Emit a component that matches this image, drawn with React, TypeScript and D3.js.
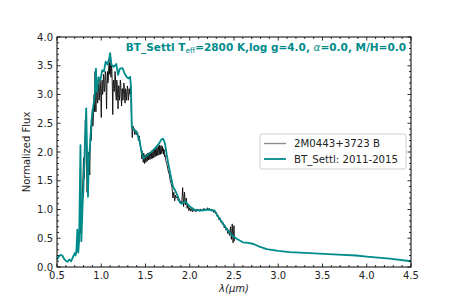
import React from 'react';
import * as d3 from 'd3';

const width = 457;
const height = 305;
const margin = { top: 37, right: 46, bottom: 38, left: 57 };

const teal = '#008b8b';

// 2M0443+3723 B observed spectrum [wavelength um, normalized flux]
const obsWave = [
    0.73, 0.74, 0.75, 0.76, 0.77, 0.78, 0.79, 0.80, 0.81, 0.82, 0.83, 0.84, 0.85, 0.86, 0.87,
    0.880, 0.885, 0.890, 0.895, 0.900, 0.905, 0.910, 0.915, 0.920, 0.925, 0.930, 0.935, 0.940, 0.945, 0.950,
    0.955, 0.960, 0.965, 0.970, 0.975, 0.980, 0.985, 0.990, 0.995, 1.000, 1.005, 1.010, 1.015, 1.020, 1.025,
    1.030, 1.035, 1.040, 1.045, 1.050, 1.055, 1.060, 1.065, 1.070, 1.075, 1.080, 1.085, 1.090, 1.095, 1.100,
    1.105, 1.110, 1.115, 1.120, 1.125, 1.130, 1.135, 1.140, 1.145, 1.150, 1.155, 1.160, 1.165, 1.170, 1.175,
    1.180, 1.185, 1.190, 1.195, 1.200, 1.205, 1.210, 1.215, 1.220, 1.225, 1.230, 1.235, 1.240, 1.245, 1.250,
    1.255, 1.260, 1.265, 1.270, 1.275, 1.280, 1.285, 1.290, 1.295, 1.300, 1.305, 1.310, 1.315, 1.320, 1.325,
    1.330, 1.335, 1.340,
    1.35, 1.36, 1.37, 1.38, 1.39, 1.40, 1.41, 1.42, 1.43, 1.44,
    1.450, 1.455, 1.460, 1.465, 1.470, 1.475, 1.480, 1.485, 1.490, 1.495, 1.500, 1.505, 1.510, 1.515, 1.520,
    1.525, 1.530, 1.535, 1.540, 1.545, 1.550, 1.555, 1.560, 1.565, 1.570, 1.575, 1.580, 1.585, 1.590, 1.595,
    1.600, 1.605, 1.610, 1.615, 1.620, 1.625, 1.630, 1.635, 1.640, 1.645, 1.650, 1.655, 1.660, 1.665, 1.670,
    1.675, 1.680, 1.685, 1.690, 1.695, 1.700, 1.705, 1.710, 1.715, 1.720,
    1.73, 1.74, 1.75, 1.76, 1.77, 1.78, 1.79, 1.80,
    1.81, 1.82, 1.83, 1.84, 1.85, 1.86, 1.87, 1.88, 1.89, 1.90, 1.91, 1.92, 1.93, 1.94, 1.95, 1.96, 1.97, 1.98,
    1.99, 2.00, 2.01, 2.02, 2.03, 2.04, 2.05, 2.06, 2.07, 2.08, 2.09, 2.10, 2.11, 2.12, 2.13, 2.14, 2.15, 2.16,
    2.17, 2.18, 2.19, 2.20, 2.21, 2.22, 2.23, 2.24, 2.25, 2.26, 2.27, 2.28, 2.29, 2.30, 2.31, 2.32, 2.33, 2.34,
    2.35, 2.36, 2.37, 2.38, 2.39, 2.40, 2.41, 2.42, 2.43, 2.44, 2.45, 2.46, 2.47, 2.48, 2.49, 2.50, 2.505,
];
const obsFlux = [
    0.35, 0.55, 0.45, 0.80, 0.58, 1.05, 1.40, 1.90, 1.55, 2.55, 2.10, 1.30, 1.75, 2.00, 1.60,
    2.45, 2.20, 2.30, 2.60, 2.75, 2.45, 2.55, 2.85, 3.00, 2.70, 3.40, 3.05, 2.70, 3.15, 3.10,
    2.90, 2.85, 3.20, 3.15, 2.90, 2.95, 3.25, 3.20, 2.95, 2.60, 3.10, 3.25, 3.00, 3.05, 3.35,
    3.30, 3.05, 3.10, 3.40, 3.35, 3.10, 2.75, 3.20, 3.40, 3.20, 3.25, 3.50, 3.55, 3.35, 3.65,
    3.40, 3.30, 3.50, 3.45, 3.15, 2.65, 3.20, 3.25, 3.05, 3.10, 3.40, 3.35, 3.00, 2.90, 3.25,
    3.20, 2.95, 2.75, 3.15, 3.15, 2.90, 3.00, 3.25, 3.20, 2.95, 2.80, 3.10, 3.10, 2.90, 3.00,
    3.20, 3.15, 2.90, 2.85, 3.10, 3.05, 2.90, 3.00, 3.15, 3.10, 2.90, 2.95, 3.10, 3.05, 3.00,
    3.15, 3.00, 2.70,
    2.25, 2.45, 2.40, 2.30, 2.38, 2.30, 2.35, 2.20, 2.28, 2.10,
    2.05, 1.95, 1.88, 2.02, 1.90, 1.82, 1.98, 1.86, 1.80, 1.95, 1.88, 1.82, 1.96, 1.90, 1.84,
    1.98, 1.91, 1.86, 1.99, 1.92, 1.87, 2.00, 1.93, 1.88, 2.02, 1.95, 1.89, 2.04, 1.96, 1.90,
    2.05, 1.97, 1.92, 2.07, 1.99, 1.93, 2.08, 2.00, 1.94, 2.10, 2.02, 1.95, 2.12, 2.03, 1.96,
    2.11, 2.04, 1.97, 2.10, 2.02, 2.06, 1.96, 2.04, 1.92, 1.95,
    1.85, 1.80, 1.72, 1.65, 1.60, 1.50, 1.45, 1.38,
    1.20, 1.30, 1.15, 1.25, 1.20, 1.22, 1.15, 1.18, 1.12, 1.15, 1.10, 1.38, 1.05, 1.30, 1.08, 1.20, 1.02, 1.08,
    0.98, 1.03, 0.97, 1.02, 0.96, 1.01, 0.97, 1.00, 0.96, 1.01, 0.98, 1.00, 0.97, 1.01, 0.98, 1.00, 0.99, 1.02,
    0.98, 1.01, 0.99, 1.03, 0.99, 1.02, 0.98, 1.01, 0.97, 1.00, 0.95, 0.99, 0.93, 0.95, 0.88, 0.90, 0.82, 0.86,
    0.78, 0.80, 0.74, 0.77, 0.68, 0.72, 0.64, 0.68, 0.58, 0.64, 0.55, 0.70, 0.48, 0.75, 0.42, 0.72, 0.45,
];

// BT_Settl model
const modelWave = [
    0.50, 0.52, 0.54, 0.56, 0.58, 0.60, 0.62, 0.64, 0.66, 0.68, 0.70, 0.71, 0.72, 0.73, 0.74, 0.75, 0.765, 0.775,
    0.79, 0.80, 0.81, 0.83, 0.85, 0.86, 0.87, 0.89, 0.91, 0.925, 0.94, 0.95, 0.97, 0.99, 1.01, 1.03, 1.05, 1.07,
    1.09, 1.10, 1.115, 1.14, 1.17, 1.19, 1.21, 1.24, 1.265, 1.29, 1.31, 1.325, 1.336, 1.345, 1.36, 1.40, 1.43,
    1.45, 1.475, 1.50, 1.55, 1.60, 1.65, 1.68, 1.70, 1.72, 1.74, 1.76, 1.79, 1.81, 1.835, 1.86, 1.89, 1.91, 1.95,
    2.00, 2.06, 2.13, 2.21, 2.28, 2.32, 2.40, 2.47, 2.53, 2.60, 2.66, 2.72, 2.78, 2.87, 3.00, 3.13, 3.36, 3.62,
    3.88, 4.00, 4.26, 4.50,
];
const modelFlux = [
    0.13, 0.18, 0.21, 0.20, 0.14, 0.11, 0.09, 0.13, 0.10, 0.17, 0.24, 0.20, 0.30, 0.65, 0.25, 0.45, 2.12, 0.45,
    1.10, 1.40, 1.90, 2.76, 1.22, 1.90, 2.05, 2.55, 2.80, 2.95, 3.45, 3.05, 3.30, 3.25, 3.42, 3.40, 3.57, 3.52,
    3.62, 3.72, 3.52, 3.48, 3.53, 3.34, 3.45, 3.46, 3.36, 3.30, 3.28, 3.31, 3.14, 2.44, 2.41, 2.34, 2.22,
    2.05, 1.89, 1.92, 1.98, 2.05, 2.14, 2.22, 2.23, 2.15, 1.95, 1.78, 1.55, 1.40, 1.33, 1.25, 1.12, 1.10, 1.14,
    1.05, 0.99, 0.98, 1.00, 0.98, 0.88, 0.70, 0.56, 0.49, 0.43, 0.42, 0.40, 0.36, 0.31, 0.28, 0.26, 0.24, 0.22,
    0.20, 0.18, 0.145, 0.10,
];

const xTicks = [0.5, 1.0, 1.5, 2.0, 2.5, 3.0, 3.5, 4.0, 4.5];
const yTicks = [0.0, 0.5, 1.0, 1.5, 2.0, 2.5, 3.0, 3.5, 4.0];

const legendLabels = ['2M0443+3723 B', 'BT_Settl: 2011-2015'];

const font = 'DejaVu Sans, sans-serif';

export default function App() {
    const x = d3.scaleLinear().domain([0.5, 4.5]).range([margin.left, width - margin.right]);
    const y = d3.scaleLinear().domain([0, 4]).range([height - margin.bottom, margin.top]);

    const line = d3.line<[number, number]>()
        .x(d => x(d[0]))
        .y(d => y(d[1]));

    const obs = obsWave.map((w, i) => [w, obsFlux[i]] as [number, number]);
    const model = modelWave.map((w, i) => [w, modelFlux[i]] as [number, number]);

    const xMinor = d3.range(5, 46).map(d => d / 10).filter(d => !xTicks.includes(d));
    const yMinor = d3.range(0, 41).map(d => d / 10).filter(d => !yTicks.includes(d));

    const x0 = margin.left;
    const x1 = width - margin.right;
    const y0 = height - margin.bottom;
    const y1 = margin.top;
    const major = 3.5;
    const minor = 2;

    const lx = 260;
    const ly = 134;

    return (
        <svg width={width} height={height} style={{ display: 'block', position: 'absolute', left: 0, top: 0 }}>
            <rect width={width} height={height} fill="#fff" />

            <path d={line(obs) || ''} fill="none" stroke="#000" strokeOpacity={0.85} strokeWidth={1} />
            <path d={line(model) || ''} fill="none" stroke={teal} strokeWidth={1.8} strokeLinejoin="round" />

            <g stroke="#000" strokeWidth={0.8}>
                {xTicks.map(t => (
                    <g key={'xt' + t}>
                        <line x1={x(t)} x2={x(t)} y1={y0} y2={y0 - major} />
                        <line x1={x(t)} x2={x(t)} y1={y1} y2={y1 + major} />
                    </g>
                ))}
                {xMinor.map(t => (
                    <g key={'xm' + t}>
                        <line x1={x(t)} x2={x(t)} y1={y0} y2={y0 - minor} />
                        <line x1={x(t)} x2={x(t)} y1={y1} y2={y1 + minor} />
                    </g>
                ))}
                {yTicks.map(t => (
                    <g key={'yt' + t}>
                        <line x1={x0} x2={x0 + major} y1={y(t)} y2={y(t)} />
                        <line x1={x1} x2={x1 - major} y1={y(t)} y2={y(t)} />
                    </g>
                ))}
                {yMinor.map(t => (
                    <g key={'ym' + t}>
                        <line x1={x0} x2={x0 + minor} y1={y(t)} y2={y(t)} />
                        <line x1={x1} x2={x1 - minor} y1={y(t)} y2={y(t)} />
                    </g>
                ))}
            </g>

            <rect x={x0} y={y1} width={x1 - x0} height={y0 - y1} fill="none" stroke="#000" strokeWidth={1} />

            <g fontFamily={font} fontSize={10} fill="#222">
                {xTicks.map(t => (
                    <text key={'xl' + t} x={x(t)} y={y0 + 12} textAnchor="middle">{t.toFixed(1)}</text>
                ))}
                {yTicks.map(t => (
                    <text key={'yl' + t} x={x0 - 4} y={y(t) + 3.5} textAnchor="end">{t.toFixed(1)}</text>
                ))}
                <text x={(x0 + x1) / 2} y={292} textAnchor="middle" fontStyle="italic">λ(μm)</text>
                <text transform={`translate(30, ${(y0 + y1) / 2}) rotate(-90)`} textAnchor="middle">Normalized Flux</text>
            </g>

            <text x={406} y={51} textAnchor="end" fontFamily={font} fontSize={10.5} fontWeight="bold" fill={teal}>
                BT_Settl T<tspan fontSize={7.5} fontWeight="normal" dy={2}>eff</tspan>
                <tspan dy={-2}>=2800 K,log g=4.0, </tspan>
                <tspan fontStyle="italic" fontWeight="normal">α</tspan>
                <tspan>=0.0, M/H=0.0</tspan>
            </text>

            <g>
                <rect x={lx} y={ly} width={146} height={35} rx={2} fill="#fff" fillOpacity={0.8} stroke="#d0d0d0" strokeWidth={1} />
                <line x1={lx + 4} x2={lx + 26} y1={ly + 9.5} y2={ly + 9.5} stroke="#000" strokeOpacity={0.45} strokeWidth={1.4} />
                <line x1={lx + 4} x2={lx + 26} y1={ly + 25} y2={ly + 25} stroke={teal} strokeWidth={1.8} />
                <text x={lx + 34} y={ly + 13} fontFamily={font} fontSize={10.2} fill="#222">{legendLabels[0]}</text>
                <text x={lx + 34} y={ly + 28.5} fontFamily={font} fontSize={10.2} fill="#222">{legendLabels[1]}</text>
            </g>
        </svg>
    );
}
